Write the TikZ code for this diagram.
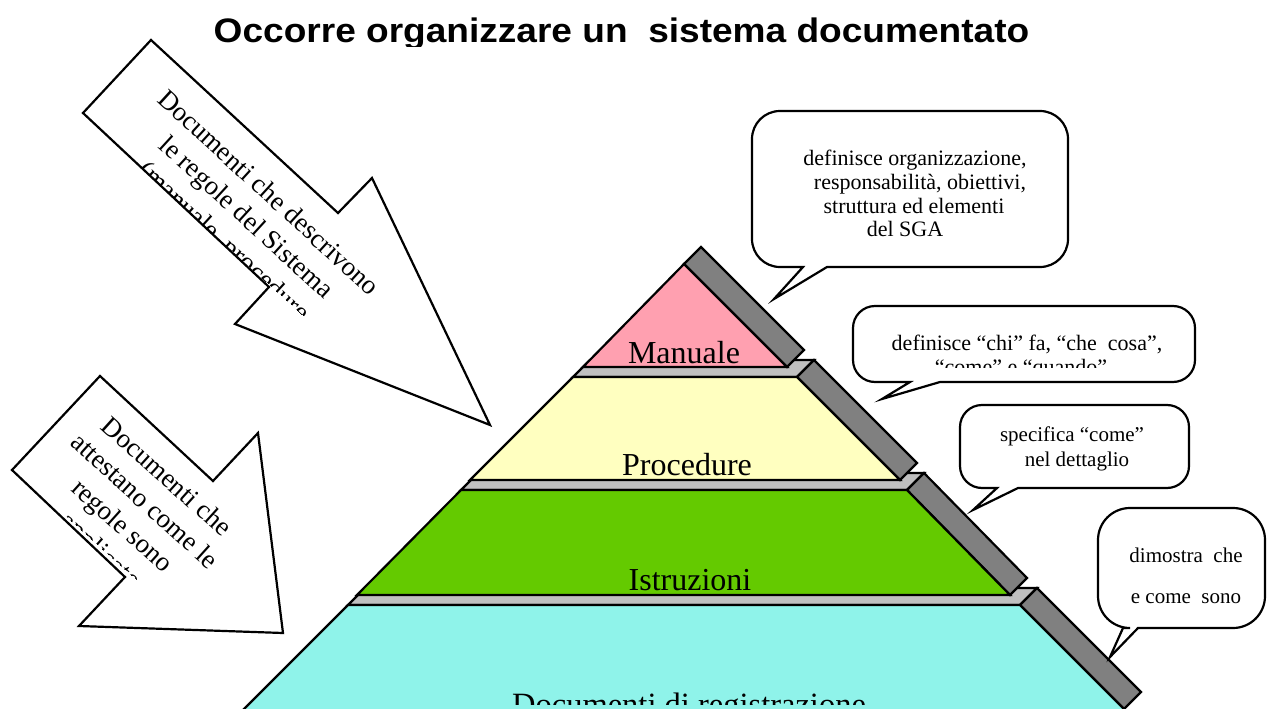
\documentclass[tikz,border=0pt]{standalone}
\usepackage{fontspec}
\setmainfont{Liberation Serif}
\newfontfamily\titlesans{Liberation Sans}
\definecolor{pinkL}{RGB}{255,160,176}
\definecolor{yellowL}{RGB}{255,255,192}
\definecolor{greenL}{RGB}{100,202,0}
\definecolor{cyanL}{RGB}{143,243,234}
\definecolor{darkband}{RGB}{128,128,128}
\definecolor{lightband}{RGB}{192,192,192}
\newcommand{\speechbubble}[9]{%
 \path[bubble] (#6,-#4) -- (#8,-#9) -- (#7,-#4) -- ({#2-#5},-#4)
   arc[start angle=270,end angle=360,radius=#5] -- (#2,{-#3-#5})
   arc[start angle=0,end angle=90,radius=#5] -- ({#1+#5},-#3)
   arc[start angle=90,end angle=180,radius=#5] -- (#1,{-#4+#5})
   arc[start angle=180,end angle=270,radius=#5] -- cycle;}
\begin{document}
\begin{tikzpicture}[x=1pt,y=1pt,
  layerline/.style={draw=black,line width=2.2pt,line join=miter},
  arrowsh/.style={draw=black,line width=2.2pt,fill=white,line join=miter},
  bubble/.style={draw=black,line width=2.2pt,fill=white,line join=miter},
  layertext/.style={font=\fontsize{32}{38}\selectfont,inner sep=0pt},
  arrowtext/.style={font=\fontsize{27}{33}\selectfont,inner sep=0pt},
  bubbletext/.style={font=\fontsize{22}{24}\selectfont,inner sep=0pt},
  bubbletextsmall/.style={font=\fontsize{21}{24}\selectfont,inner sep=0pt}]
\useasboundingbox (0,0) rectangle (1267,-709);
\clip (0,0) rectangle (1267,-709);
\fill[white] (0,0) rectangle (1267,-709);

% title
\begin{scope}
 \clip (0,0) rectangle (1267,-47);
 \node[anchor=base,inner sep=0pt,font=\titlesans\bfseries\fontsize{34}{40}\selectfont] (title) at (621.5,-42.5) {\scalebox{1.09}[1]{Occorre organizzare un\ \ sistema documentato}};
\end{scope}

% pyramid: bottom layer
\path[layerline,fill=lightband] (348,-605) -- (1020,-605) -- (1037,-588) -- (365,-588) -- cycle;
\path[layerline,fill=darkband] (1020,-605) -- (1037,-588) -- (1141,-692) -- (1124,-709) -- cycle;
\path[layerline,fill=cyanL] (348,-605) -- (1020,-605) -- (1124,-709) -- (1124,-716) -- (237,-716) -- cycle;
% Istruzioni layer
\path[layerline,fill=lightband] (461,-490) -- (907,-490) -- (924,-473) -- (478,-473) -- cycle;
\path[layerline,fill=darkband] (907,-490) -- (924,-473) -- (1027,-578) -- (1010,-595) -- cycle;
\path[layerline,fill=greenL] (461,-490) -- (907,-490) -- (1010,-595) -- (357,-595) -- cycle;
% Procedure layer
\path[layerline,fill=lightband] (573,-377) -- (797,-377) -- (814,-360) -- (590,-360) -- cycle;
\path[layerline,fill=darkband] (797,-377) -- (814,-360) -- (917,-463) -- (900,-480) -- cycle;
\path[layerline,fill=yellowL] (573,-377) -- (797,-377) -- (900,-480) -- (470,-480) -- cycle;
% Manuale layer
\path[layerline,fill=darkband] (684,-264) -- (701,-247) -- (804,-350) -- (787,-367) -- cycle;
\path[layerline,fill=pinkL] (684,-264) -- (787,-367) -- (583,-367) -- cycle;

\node[layertext,anchor=base] (manuale) at (684,-363) {Manuale};
\node[layertext,anchor=base] (procedure) at (687,-475) {Procedure};
\node[layertext,anchor=base] (istruzioni) at (690,-590) {Istruzioni};
\begin{scope}
 \clip (0,-600) rectangle (1267,-704.3);
 \node[layertext,anchor=base,font=\fontsize{32.5}{38}\selectfont] (registrazione) at (689,-715.5) {Documenti di registrazione};
\end{scope}

% big arrows
\path[arrowsh] (151,-40) -- (338,-213) -- (372,-178) -- (490,-425) -- (235,-324) -- (269,-287) -- (83,-113) -- cycle;
\begin{scope}[shift={(263,-199)},rotate=-42.5,transform shape]
 \clip (-170,40) rectangle (170,-59);
 \node[arrowtext,anchor=base] (a1l1) at (0,0) {Documenti che descrivono};
 \node[arrowtext,anchor=base] (a1l2) at (0,-33) {le regole del Sistema};
 \node[arrowtext,anchor=base] (a1l3) at (0,-66) {(manuale, procedure};
\end{scope}

\path[arrowsh] (100,-376) -- (213,-481) -- (258,-433) -- (283,-633) -- (79,-626) -- (125,-577) -- (12,-470) -- cycle;
\begin{scope}[shift={(161,-483)},rotate=-42,transform shape]
 \clip (-120,40) rectangle (120,-88.5);
 \node[arrowtext,anchor=base] (a2l1) at (0,0) {Documenti che};
 \node[arrowtext,anchor=base] (a2l2) at (0,-33) {attestano come le};
 \node[arrowtext,anchor=base] (a2l3) at (0,-66) {regole sono};
 \node[arrowtext,anchor=base] (a2l4) at (0,-99) {applicate};
\end{scope}

% callouts
\speechbubble{752}{1068}{111}{267}{28}{803}{827}{774}{299}
\node[bubbletext,anchor=base] (c1l1) at (915,-165) {definisce organizzazione,};
\node[bubbletext,anchor=base] (c1l2) at (920,-189) {responsabilità, obiettivi,};
\node[bubbletext,anchor=base] (c1l3) at (914,-213) {struttura ed elementi};
\node[bubbletext,anchor=base] (c1l4) at (905,-236) {del SGA};

\speechbubble{853}{1195}{306}{382}{22}{910}{940}{882}{399}
\node[bubbletext,anchor=base] (c2l1) at (1027,-350) {definisce “chi” fa, “che\ \ cosa”,};
\begin{scope}
 \clip (853,-306) rectangle (1195,-367.5);
 \node[bubbletext,anchor=base] (c2l2) at (1021,-374) {“come” e “quando”};
\end{scope}

\speechbubble{960}{1189}{405}{488}{22}{997}{1018}{973}{510}
\node[bubbletextsmall,anchor=base] (c3l1) at (1072,-441) {specifica “come”};
\node[bubbletextsmall,anchor=base] (c3l2) at (1077,-466) {nel dettaglio};

\speechbubble{1098}{1265}{508}{628}{32}{1123}{1138}{1110}{657}
\node[bubbletextsmall,anchor=base] (c4l1) at (1186,-562) {dimostra\ \ che};
\node[bubbletextsmall,anchor=base] (c4l2) at (1186,-603) {e come\ \ sono};
\end{tikzpicture}
\end{document}
